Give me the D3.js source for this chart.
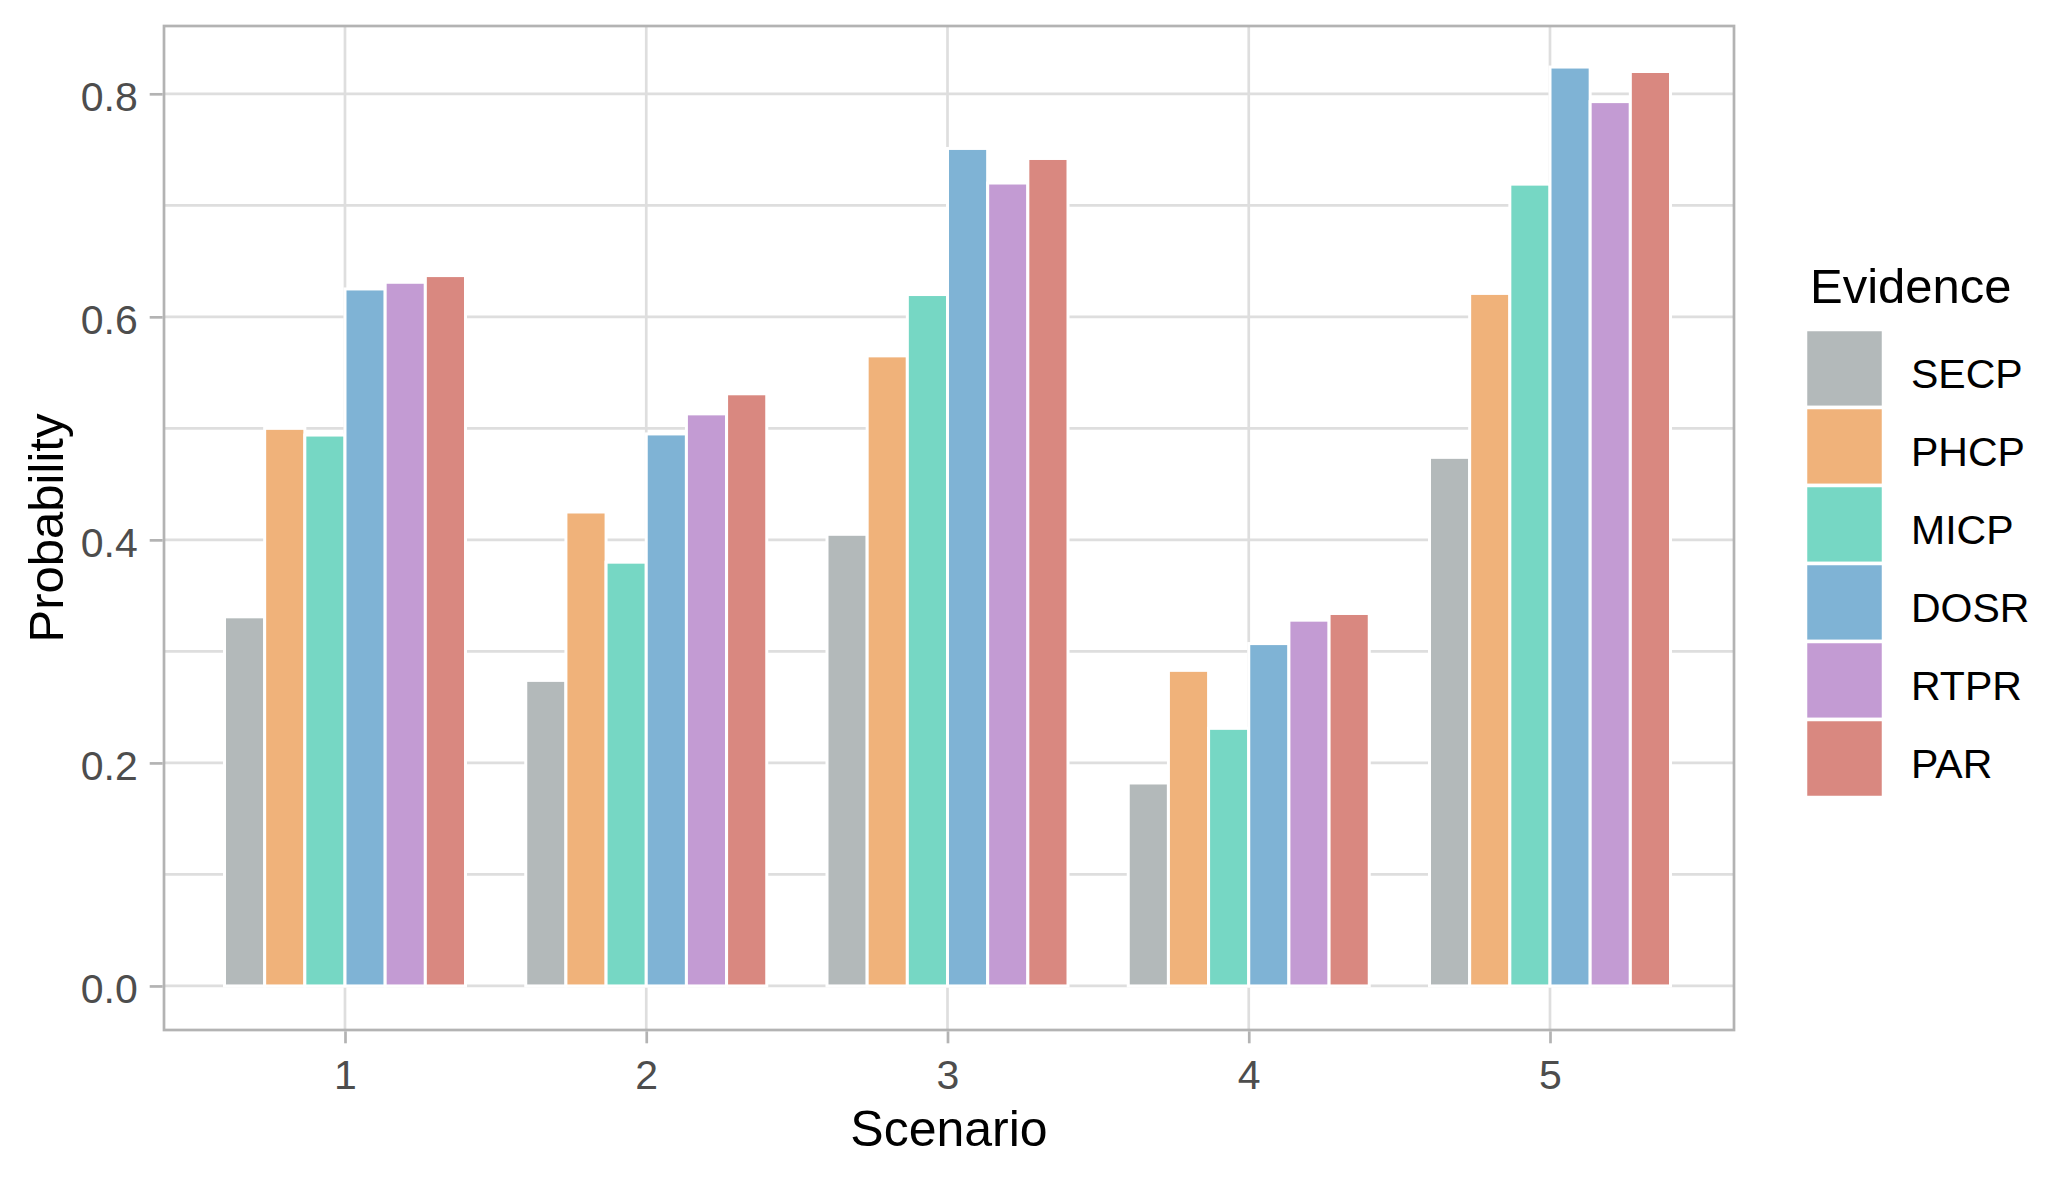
<!DOCTYPE html>
<html lang="en">
<head>
<meta charset="utf-8">
<title>Probability by scenario</title>
<script src="https://cdn.jsdelivr.net/npm/d3@7"></script>
<style>
  body { margin: 0; background: #fff; }
  svg text { font-family: "Liberation Sans", Arial, sans-serif; }
</style>
</head>
<body>
<script>
// data
var scenarios = [1, 2, 3, 4, 5];
var evidence = ["SECP", "PHCP", "MICP", "DOSR", "RTPR", "PAR"];
var colors = ["#B3B9BA", "#F0B27A", "#76D7C4", "#7FB3D5", "#C39BD3", "#D98880"];

var SECP = [0.331, 0.274, 0.405, 0.182, 0.474];
var PHCP = [0.500, 0.425, 0.565, 0.283, 0.621];
var MICP = [0.494, 0.380, 0.620, 0.231, 0.719];
var DOSR = [0.625, 0.495, 0.751, 0.307, 0.824];
var RTPR = [0.631, 0.513, 0.720, 0.328, 0.793];
var PAR  = [0.637, 0.531, 0.742, 0.334, 0.820];

var yTicks = [0, 0.2, 0.4, 0.6, 0.8];
var yMinor = [0.1, 0.3, 0.5, 0.7];

var seriesMap = { SECP: SECP, PHCP: PHCP, MICP: MICP, DOSR: DOSR, RTPR: RTPR, PAR: PAR };

// long form table for the bars
var rows = [];
evidence.forEach(function(e) {
    scenarios.forEach(function(s, i) {
        rows.push({ scenario: s, evidence: e, value: seriesMap[e][i] });
    });
});

var W = 2054, H = 1181;
var panel = { left: 164, right: 1734, top: 26, bottom: 1030 };

var svg = d3.select("body").append("svg")
    .attr("width", W)
    .attr("height", H);

// scenario 1 and 5 tick positions
var x = d3.scaleLinear()
    .domain([1, 5])
    .range([345, 1550]);

var y = d3.scaleLinear()
    .domain([-0.0395, 0.8608])
    .range([panel.bottom, panel.top]);

// dodge inside each scenario, total width 0.8
var xSub = d3.scaleBand()
    .domain(evidence)
    .range([0, x(1.4) - x(0.6)]);

var color = d3.scaleOrdinal().domain(evidence).range(colors);

var gridColor = "#DEDEDE", frameColor = "#B3B3B3";

// grid lines
svg.append("g").selectAll("line.minor")
    .data(yMinor).enter().append("line")
    .attr("x1", panel.left).attr("x2", panel.right)
    .attr("y1", function(d) { return y(d); })
    .attr("y2", function(d) { return y(d); })
    .style("stroke", gridColor).style("stroke-width", 2.7);

svg.append("g").selectAll("line.major")
    .data(yTicks).enter().append("line")
    .attr("x1", panel.left).attr("x2", panel.right)
    .attr("y1", function(d) { return y(d); })
    .attr("y2", function(d) { return y(d); })
    .style("stroke", gridColor).style("stroke-width", 2.7);

svg.append("g").selectAll("line.vert")
    .data(scenarios).enter().append("line")
    .attr("x1", function(d) { return x(d); })
    .attr("x2", function(d) { return x(d); })
    .attr("y1", panel.top).attr("y2", panel.bottom)
    .style("stroke", gridColor).style("stroke-width", 2.7);

// bars
svg.append("g").selectAll("rect")
    .data(rows).enter().append("rect")
    .attr("x", function(d) { return x(d.scenario - 0.4) + xSub(d.evidence); })
    .attr("y", function(d) { return y(d.value); })
    .attr("width", xSub.bandwidth())
    .attr("height", function(d) { return y(0) - y(d.value); })
    .style("fill", function(d) { return color(d.evidence); })
    .style("stroke", "white")
    .style("stroke-width", 3);

// panel border
svg.append("rect")
    .attr("x", panel.left).attr("y", panel.top)
    .attr("width", panel.right - panel.left)
    .attr("height", panel.bottom - panel.top)
    .style("fill", "none")
    .style("stroke", frameColor)
    .style("stroke-width", 2.7);

// axes
var yAxis = svg.append("g")
    .attr("transform", "translate(" + (panel.left - 1.3) + ",0)")
    .call(d3.axisLeft(y).tickValues(yTicks).tickFormat(d3.format(".1f"))
        .tickSize(13).tickPadding(12));

var xAxis = svg.append("g")
    .attr("transform", "translate(0," + (panel.bottom + 1.3) + ")")
    .call(d3.axisBottom(x).tickValues(scenarios).tickFormat(d3.format("d"))
        .tickSize(12).tickPadding(17));

[yAxis, xAxis].forEach(function(a) {
    a.select(".domain").remove();
    a.selectAll(".tick line").style("stroke", frameColor).style("stroke-width", 2.7);
    a.selectAll(".tick text")
        .style("font-size", "41px")
        .style("fill", "#4D4D4D")
        .style("font-family", "'Liberation Sans', Arial, sans-serif");
});
yAxis.selectAll(".tick text").attr("dy", "0.4em");

// axis titles
svg.append("text")
    .attr("x", (panel.left + panel.right) / 2)
    .attr("y", 1146)
    .attr("text-anchor", "middle")
    .style("font-size", "50px")
    .style("fill", "#000")
    .text("Scenario");

svg.append("text")
    .attr("transform", "translate(63," + ((panel.top + panel.bottom) / 2) + ") rotate(-90)")
    .attr("text-anchor", "middle")
    .style("font-size", "49px")
    .style("fill", "#000")
    .text("Probability");

// legend
var legend = svg.append("g").attr("transform", "translate(1805.5,329.5)");

legend.append("text")
    .attr("x", 4.5)
    .attr("y", -27)
    .style("font-size", "49px")
    .style("fill", "#000")
    .text("Evidence");

var keys = legend.selectAll("g.key")
    .data(evidence).enter().append("g")
    .attr("transform", function(d, i) { return "translate(0," + (i * 78) + ")"; });

keys.append("rect")
    .attr("width", 78).attr("height", 78)
    .style("fill", function(d) { return color(d); })
    .style("stroke", "white")
    .style("stroke-width", 3.5);

keys.append("text")
    .attr("x", 105.5)
    .attr("y", 58)
    .style("font-size", "41px")
    .style("fill", "#000")
    .text(function(d) { return d; });
</script>
</body>
</html>
